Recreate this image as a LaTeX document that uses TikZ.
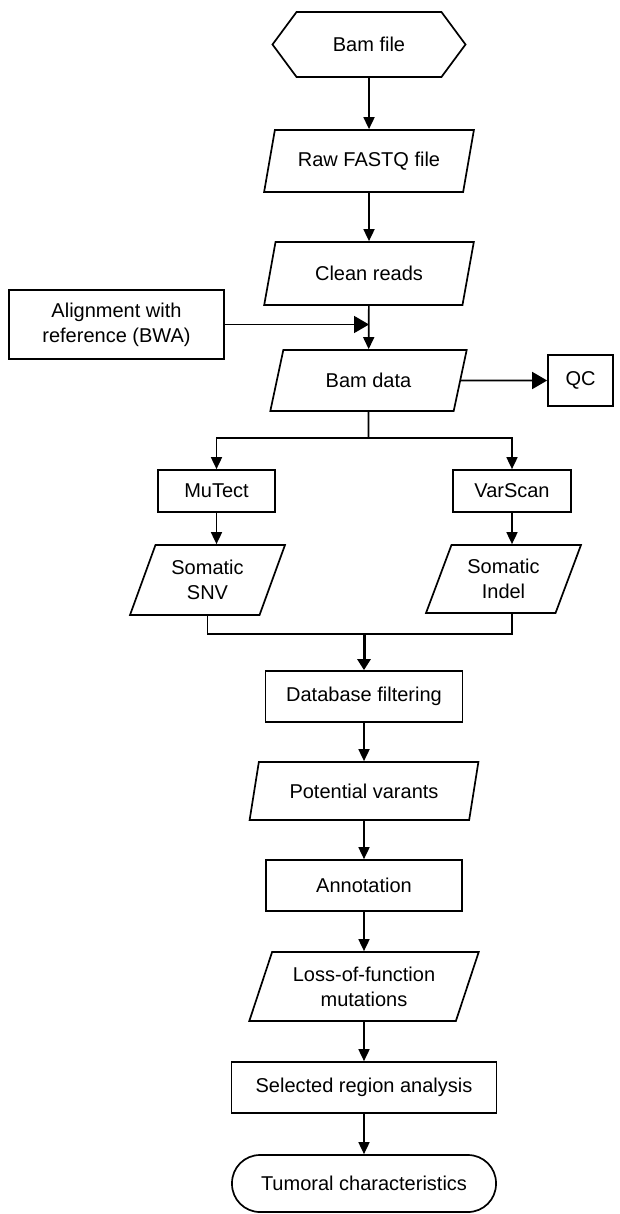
\documentclass[tikz,border=0pt]{standalone}
\usepackage{fontspec}
\setmainfont{Liberation Sans}
\usetikzlibrary{arrows.meta, shapes.geometric, shapes.symbols}

\tikzset{
	flow/.style={draw, line width=1.7pt, align=center, inner sep=0pt},
	startbox/.style={flow, signal, signal to=west and east, signal pointer angle=107},
	procbox/.style={flow, rectangle},
	databox/.style={flow, trapezium, trapezium left angle=66, trapezium right angle=114, trapezium stretches=true},
	endbox/.style={flow, rectangle, rounded corners=28pt},
	link/.style={line width=1.7pt, -{Triangle[length=12pt,width=11pt]}},
	sidelink/.style={line width=1.7pt, -{Triangle[length=15pt,width=17pt]}},
	mergelink/.style={line width=3pt, -{Triangle[length=11pt,width=13pt]}}
}

\begin{document}
\begin{tikzpicture}[x=1pt, y=-1pt, font=\fontsize{20}{25}\selectfont]
		\useasboundingbox (0,0) rectangle (619,1214);
		
		\def\xTOP{369};
		\def\xLOW{364};
		
		% main column, upper part
		\node [startbox, minimum width=193pt, minimum height=65pt] (bamfile) at (\xTOP,44.5) {Bam file};
		\node [databox, minimum width=210pt, minimum height=62pt] (rawfq) at (\xTOP,161) {Raw FASTQ file};
		\node [databox, minimum width=210pt, minimum height=63pt] (clean) at (\xTOP,273.5) {Clean reads};
		\node [procbox, minimum width=215pt, minimum height=69pt] (align) at (116.5,324.5) {Alignment with\\reference (BWA)};
		\node [databox, minimum width=197pt, minimum height=61pt] (bamdata) at (368.5,380.5) {Bam data};
		\node [procbox, minimum width=65pt, minimum height=51pt] (qc) at (580.5,380.5) {QC};
		
		% the two callers
		\node [procbox, minimum width=117pt, minimum height=42pt] (mutect) at (216.5,491) {MuTect};
		\node [procbox, minimum width=118pt, minimum height=42pt] (varscan) at (512,491) {VarScan};
		\node [databox, minimum width=155pt, minimum height=70pt] (snv) at (207.5,580) {Somatic\\SNV};
		\node [databox, minimum width=155pt, minimum height=68pt] (indel) at (503.5,579) {Somatic\\Indel};
		
		% main column, lower part
		\node [procbox, minimum width=197pt, minimum height=51pt] (dbfilter) at (\xLOW,696.5) {Database filtering};
		\node [databox, minimum width=229pt, minimum height=58pt] (potential) at (\xLOW,791) {Potential varants};
		\node [procbox, minimum width=196pt, minimum height=51pt] (annot) at (\xLOW,885.5) {Annotation};
		\node [databox, minimum width=230pt, minimum height=69pt] (lof) at (\xLOW,986.5) {Loss-of-function\\mutations};
		\node [procbox, minimum width=265pt, minimum height=51pt] (region) at (\xLOW,1087.5) {Selected region analysis};
		\node [endbox, minimum width=264pt, minimum height=57pt] (tumoral) at (\xLOW,1183.5) {Tumoral characteristics};
		
		\coordinate (join) at (clean.south |- align.east);
		\coordinate (fork) at (368.5,438);
		\coordinate (merge) at (\xLOW,634);
		
		\draw [link] (bamfile) -- (rawfq);
		\draw [link] (rawfq) -- (clean);
		\draw [link] (clean) -- (bamdata);
		\draw [sidelink] (align) -- (join);
		\draw [sidelink] (bamdata) -- (qc);
		
		\draw [line width=1.7pt] (bamdata) -- (fork);
		\draw [link] (fork) -| (mutect);
		\draw [link] (fork) -| (varscan);
		\draw [link] (mutect) -- (mutect |- snv.north);
		\draw [link] (varscan) -- (varscan |- indel.north);
		
		\draw [line width=1.7pt] (snv.south) |- (varscan |- merge) -- (varscan |- indel.south);
		\draw [mergelink] (merge) -- (dbfilter);
		
		\draw [link] (dbfilter) -- (potential);
		\draw [link] (potential) -- (annot);
		\draw [link] (annot) -- (lof);
		\draw [link] (lof) -- (region);
		\draw [link] (region) -- (tumoral);
	\end{tikzpicture}
\end{document}
